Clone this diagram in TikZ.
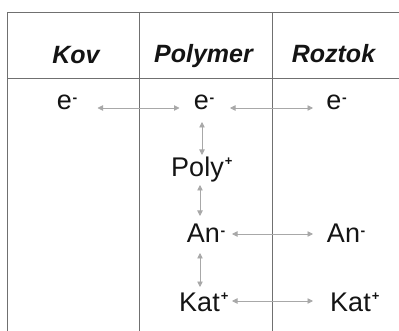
\documentclass[tikz,border=0pt]{standalone}
\usepackage{fontspec}
\setmainfont{Liberation Sans}
\usetikzlibrary{arrows.meta,calc}
\definecolor{gridc}{HTML}{707070}
\definecolor{arrc}{HTML}{A8A8A8}
\definecolor{txtc}{HTML}{141414}
\newcommand{\supminus}{\rlap{\kern0.6pt\raisebox{7.5pt}{\fontsize{14}{14}\selectfont\bfseries -}}}
\newcommand{\supplus}{\rlap{\kern1pt\raisebox{11pt}{\fontsize{13}{13}\selectfont\bfseries +}}}
\tikzset{
  grid/.style={draw=gridc,line width=0.9pt},
  head/.style={anchor=base,inner sep=0pt,text=txtc,font=\fontsize{25}{30}\selectfont\bfseries\itshape},
  body/.style={anchor=base,inner sep=0pt,text=txtc,font=\fontsize{27}{32}\selectfont},
  arr/.style={draw=arrc,line width=0.8pt,{Triangle[length=5.5pt,width=5.5pt]}-{Triangle[length=5.5pt,width=5.5pt]}}
}
\begin{document}
\begin{tikzpicture}[x=1pt,y=-1pt]
\useasboundingbox (0,0) rectangle (399,331);
% table
\draw[grid] (7.5,331) -- (7.5,12) -- (399,12);
\draw[grid] (7.5,78) -- (399,78);
\draw[grid] (139.5,12) -- (139.5,331);
\draw[grid] (272.5,12) -- (272.5,331);
% headers
\node[head] (hkov) at (76,64) {Kov};
\node[head] (hpol) at (203.5,63) {Polymer};
\node[head] (hroz) at (333.5,63) {Roztok};
% body
\node[body] (e1) at (64.5,110) {e\supminus};
\node[body] (e2) at (201.5,110) {e\supminus};
\node[body] (e3) at (334,110) {e\supminus};
\node[body] (poly) at (197.5,177) {Poly\supplus};
\node[body] (an2) at (203.5,243) {An\supminus};
\node[body] (an3) at (343.5,243) {An\supminus};
\node[body] (kat2) at (199.5,311) {Kat\supplus};
\node[body] (kat3) at (350.5,311) {Kat\supplus};
% arrows
\draw[arr] ($(e1.base)+(33,-2)$) -- ($(e2.base)+(-22,-2)$);
\draw[arr] ($(e2.base)+(28.5,-2)$) -- ($(e3.base)+(-21,-2)$);
\draw[arr] ($(an2.base)+(28.5,-9)$) -- ($(an3.base)+(-30.5,-9)$);
\draw[arr] ($(kat2.base)+(32.5,-10)$) -- ($(kat3.base)+(-37.5,-10)$);
\draw[arr] ($(e2.base)+(0.5,12)$) -- ($(poly.base)+(4.5,-22)$);
\draw[arr] ($(poly.base)+(2.5,8)$) -- ($(an2.base)+(-3.5,-27)$);
\draw[arr] ($(an2.base)+(-3.5,10)$) -- ($(kat2.base)+(0.5,-24)$);
\end{tikzpicture}
\end{document}
